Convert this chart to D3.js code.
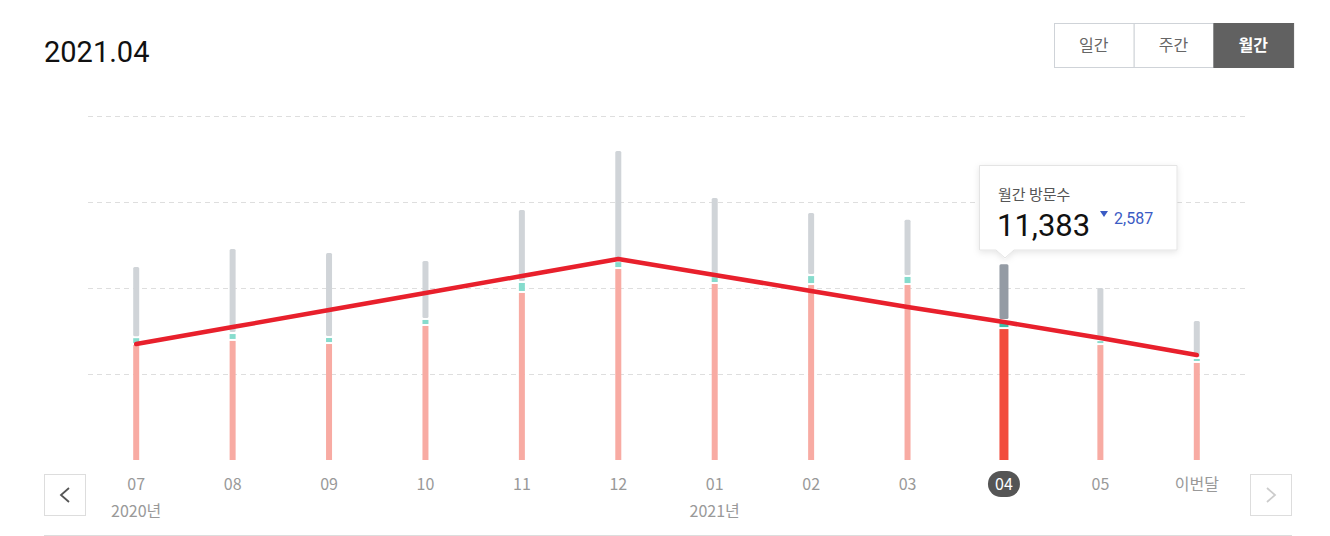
<!DOCTYPE html>
<html>
<head>
<meta charset="utf-8">
<script src="https://cdn.jsdelivr.net/npm/d3@7"></script>
<style>
  html, body { margin: 0; padding: 0; background: #fff; }
  svg { display: block; }
  text { font-family: Roboto, "Noto Sans CJK KR", sans-serif; }
  .kr { font-family: "Noto Sans CJK KR", sans-serif; }
</style>
</head>
<body>
<svg id="chart" width="1330" height="536"></svg>
<script>
// month labels on the x axis
const months = ["07", "08", "09", "10", "11", "12", "01", "02", "03", "04", "05", "이번달"];
const yearLabels = [{ month: "07", text: "2020년" }, { month: "01", text: "2021년" }];
// stacked segments, bottom to top
const pinkValues = [6740, 6980, 6800, 7850, 9770, 11160, 10290, 10230, 10230, 7670, 6740, 5700];
const tealValues = [400, 400, 350, 350, 580, 400, 400, 520, 470, 470, 230, 230];
const grayValues = [4080, 4890, 4880, 3370, 4180, 6410, 4540, 3610, 3270, 3243, 3030, 2150];
// red trend line
const lineValues = [6740, 7730, 8720, 9710, 10700, 11690, 10760, 9830, 8900, 8020, 7090, 6100];
const gridTicks = [5000, 10000, 15000, 20000];
const periodButtons = ["일간", "주간", "월간"];
const selectedMonth = "04";
const selectedPeriod = "월간";

const svg = d3.select("#chart");

const defs = svg.append("defs");
const shadow = defs.append("filter").attr("id", "shadow")
  .attr("x", "-20%").attr("y", "-20%").attr("width", "140%").attr("height", "160%");
shadow.append("feDropShadow")
  .attr("dx", 0).attr("dy", 2).attr("stdDeviation", 3)
  .attr("flood-color", "#000").attr("flood-opacity", 0.1);

const x = d3.scaleBand().domain(months).range([88, 1245]).padding(0);
const y = d3.scaleLinear().domain([0, 20000]).range([460, 116]);
const cx = (m) => x(m) + x.bandwidth() / 2;

// title
svg.append("text")
  .attr("x", 44).attr("y", 62)
  .attr("font-size", "29px")
  .attr("fill", "#111")
  .text("2021.04");

// period buttons
const btnW = 79.7, btnH = 44, btnX = 1054, btnY = 23;
const btn = svg.append("g").selectAll("g")
  .data(periodButtons)
  .enter().append("g")
  .attr("transform", (d, i) => `translate(${btnX + i * btnW},${btnY})`);
btn.append("rect")
  .attr("x", 0.5).attr("y", 0.5)
  .attr("width", btnW).attr("height", btnH)
  .attr("fill", (d) => d === selectedPeriod ? "#616161" : "#fff")
  .attr("stroke", (d) => d === selectedPeriod ? "#616161" : "#cfd3d8");
btn.append("text")
  .attr("class", "kr")
  .attr("x", btnW / 2).attr("y", btnH / 2 + 6)
  .attr("text-anchor", "middle")
  .attr("font-size", "16px")
  .attr("fill", (d) => d === selectedPeriod ? "#fff" : "#666")
  .attr("font-weight", (d) => d === selectedPeriod ? "bold" : "normal")
  .text((d) => d);

// dashed grid
const grid = svg.append("g")
  .attr("transform", "translate(88,0)")
  .call(d3.axisLeft(y).tickValues(gridTicks).tickSize(-(1245 - 88)).tickFormat(""));
grid.select(".domain").remove();
grid.selectAll(".tick line")
  .attr("stroke", "#dedede")
  .attr("stroke-dasharray", "5,4");

// stacked bars
const barW = (m) => m === selectedMonth ? 9 : 6;
const gap = 1;
const rows = months.map((m, i) => ({
  month: m,
  pink: pinkValues[i],
  teal: tealValues[i],
  gray: grayValues[i],
}));
const stack = d3.stack().keys(["pink", "teal", "gray"])(rows);
const colors = {
  pink: ["#f8aba3", "#f24c3d"],
  teal: ["#86dccd", "#3dbfa8"],
  gray: ["#d0d4d8", "#949ba4"],
};
const bars = svg.append("g");
stack.forEach((layer) => {
  bars.selectAll(`rect.${layer.key}`)
    .data(layer)
    .enter().append("rect")
    .attr("class", layer.key)
    .attr("x", (d) => cx(d.data.month) - barW(d.data.month) / 2)
    .attr("width", (d) => barW(d.data.month))
    .attr("y", (d) => y(d[1]) + (layer.key === "gray" ? 0 : gap))
    .attr("height", (d) => {
      const top = y(d[1]) + (layer.key === "gray" ? 0 : gap);
      const bottom = y(d[0]) - (layer.key === "pink" ? 0 : gap);
      return Math.max(0, bottom - top);
    })
    .attr("rx", layer.key === "gray" ? 1.5 : 0)
    .attr("fill", (d) => colors[layer.key][d.data.month === selectedMonth ? 1 : 0]);
});

// red line
const line = d3.line()
  .x((d, i) => cx(months[i]))
  .y((d) => y(d));
svg.append("path")
  .datum(lineValues)
  .attr("d", line)
  .attr("fill", "none")
  .attr("stroke", "#e8202c")
  .attr("stroke-width", 4.5)
  .attr("stroke-linecap", "round")
  .attr("stroke-linejoin", "round");

// x axis labels
const xAxis = svg.append("g")
  .attr("transform", "translate(0,490)")
  .call(d3.axisBottom(x).tickSize(0).tickPadding(0));
xAxis.select(".domain").remove();
xAxis.selectAll(".tick").filter((d) => d === selectedMonth)
  .insert("rect", "text")
  .attr("x", -16).attr("y", -19)
  .attr("width", 32).attr("height", 26)
  .attr("rx", 13)
  .attr("fill", "#555");
xAxis.selectAll(".tick text")
  .attr("class", "kr")
  .attr("dy", 0)
  .attr("y", 0)
  .attr("font-size", "16px")
  .attr("fill", (d) => d === selectedMonth ? "#fff" : "#999");

svg.append("g").selectAll("text")
  .data(yearLabels)
  .enter().append("text")
  .attr("class", "kr")
  .attr("x", (d) => cx(d.month))
  .attr("y", 517)
  .attr("text-anchor", "middle")
  .attr("font-size", "16px")
  .attr("fill", "#999")
  .text((d) => d.text);

// paging buttons
const pager = [
  { x: 44, dir: -1, color: "#555" },
  { x: 1250, dir: 1, color: "#ccc" },
];
const pg = svg.append("g").selectAll("g")
  .data(pager)
  .enter().append("g")
  .attr("transform", (d) => `translate(${d.x},474)`);
pg.append("rect")
  .attr("x", 0.5).attr("y", 0.5)
  .attr("width", 41).attr("height", 41)
  .attr("fill", "#fff")
  .attr("stroke", "#ddd");
pg.append("path")
  .attr("d", (d) => d.dir < 0 ? "M25,14 L17,21 L25,28" : "M17,14 L25,21 L17,28")
  .attr("fill", "none")
  .attr("stroke", (d) => d.color)
  .attr("stroke-width", 1.8);

// bottom rule
svg.append("line")
  .attr("x1", 44).attr("x2", 1292)
  .attr("y1", 535.5).attr("y2", 535.5)
  .attr("stroke", "#ddd");

// tooltip for the selected month
const selIdx = months.indexOf(selectedMonth);
const total = (i) => pinkValues[i] + tealValues[i] + grayValues[i];
const current = total(selIdx);
const diff = current - total(selIdx - 1);
const tip = svg.append("g").attr("transform", "translate(979,165)");
tip.append("path")
  .attr("d", "M0.5,0.5 H198 V85 H35 L26,93 L17,85 H0.5 Z")
  .attr("fill", "#fff")
  .attr("stroke", "#e4e4e4")
  .attr("filter", "url(#shadow)");
tip.append("text")
  .attr("class", "kr")
  .attr("x", 19).attr("y", 35)
  .attr("font-size", "15px")
  .attr("fill", "#555")
  .text("월간 방문수");
tip.append("text")
  .attr("x", 18).attr("y", 71)
  .attr("font-size", "31px")
  .attr("fill", "#111")
  .text(d3.format(",")(current));
tip.append("path")
  .attr("d", diff < 0 ? "M121,46 L129,46 L125,52 Z" : "M121,52 L129,52 L125,46 Z")
  .attr("fill", "#3b5bc4");
tip.append("text")
  .attr("x", 135).attr("y", 59)
  .attr("font-size", "16px")
  .attr("fill", "#3b5bc4")
  .text(d3.format(",")(Math.abs(diff)));
</script>
</body>
</html>
